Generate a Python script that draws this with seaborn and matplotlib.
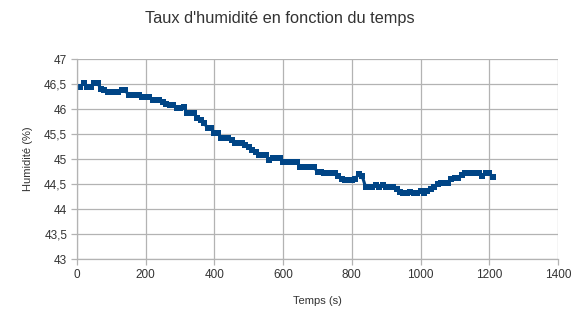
import matplotlib
matplotlib.use("Agg")
import matplotlib.pyplot as plt
from matplotlib.ticker import FuncFormatter, MultipleLocator
import seaborn as sns
import pandas as pd

temps = list(range(0, 1220, 10))
humidite = [
    46.45, 46.45, 46.52, 46.45, 46.45, 46.52, 46.52, 46.40, 46.38, 46.35,
    46.35, 46.35, 46.35, 46.38, 46.38, 46.28, 46.28, 46.28, 46.28, 46.24,
    46.24, 46.24, 46.18, 46.18, 46.18, 46.15, 46.10, 46.08, 46.08, 46.02,
    46.02, 46.05, 45.92, 45.92, 45.92, 45.82, 45.78, 45.72, 45.62, 45.62,
    45.52, 45.52, 45.42, 45.42, 45.42, 45.38, 45.32, 45.32, 45.32, 45.28,
    45.24, 45.18, 45.14, 45.08, 45.08, 45.08, 44.98, 45.02, 45.02, 45.02,
    44.94, 44.94, 44.94, 44.94, 44.94, 44.84, 44.84, 44.84, 44.84, 44.84,
    44.74, 44.74, 44.72, 44.72, 44.72, 44.72, 44.66, 44.60, 44.58, 44.58,
    44.58, 44.60, 44.70, 44.66, 44.44, 44.44, 44.44, 44.48, 44.44, 44.48,
    44.44, 44.44, 44.44, 44.40, 44.34, 44.32, 44.32, 44.34, 44.32, 44.32,
    44.36, 44.32, 44.36, 44.40, 44.45, 44.50, 44.52, 44.52, 44.52, 44.60,
    44.62, 44.62, 44.68, 44.72, 44.72, 44.72, 44.72, 44.72, 44.66, 44.72,
    44.72, 44.64,
]
x_ticks = [0, 200, 400, 600, 800, 1000, 1200, 1400]

titre = "Taux d'humidité en fonction du temps"
x_label = "Temps (s)"
y_label = "Humidité (%)"

df = pd.DataFrame({"t": temps, "h": humidite})

sns.set_style("white")
plt.rcParams["font.family"] = ["Liberation Sans", "DejaVu Sans"]

fig = plt.figure(figsize=(5.76, 3.13), dpi=100)
ax = fig.add_axes([77 / 576, 1 - 259 / 313, 481 / 576, 200 / 313])

sns.lineplot(data=df, x="t", y="h", ax=ax, color="#004586", linewidth=2.2,
             marker="s", markersize=5, markeredgewidth=0, markeredgecolor="#004586")

ax.set_xlim(0, 1400)
ax.set_ylim(43, 47)
ax.set_xticks(x_ticks)
ax.yaxis.set_major_locator(MultipleLocator(0.5))
ax.yaxis.set_major_formatter(FuncFormatter(lambda v, p: (f"{v:g}").replace(".", ",")))

ax.grid(True, color="#b3b3b3", linewidth=0.9)
ax.set_axisbelow(True)
for s in ["top", "right"]:
    ax.spines[s].set_visible(False)
for s in ["left", "bottom"]:
    ax.spines[s].set_color("#b3b3b3")
    ax.spines[s].set_linewidth(0.9)
ax.tick_params(axis="both", which="major", length=4, width=0.9, color="#b3b3b3",
               labelsize=8.5, labelcolor="#333333", pad=3, direction="out")
ax.tick_params(left=True, bottom=True)

ax.set_xlabel(x_label, fontsize=8, color="#333333", labelpad=11)
ax.set_ylabel(y_label, fontsize=8, color="#333333", labelpad=8)

fig.text(280 / 576, 1 - 18 / 313, titre, ha="center", va="center", fontsize=11.8, color="#333333")

fig.savefig("out.png", dpi=100)
